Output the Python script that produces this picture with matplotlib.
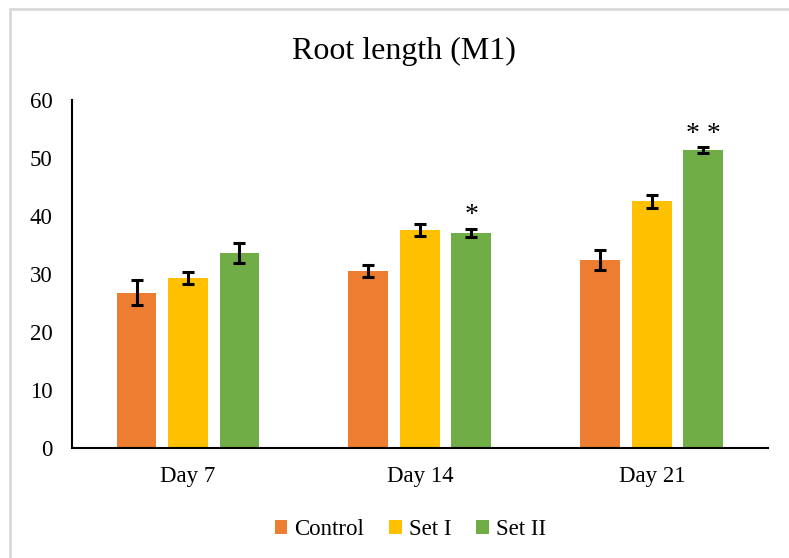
import numpy as np
import matplotlib
matplotlib.use("Agg")
import matplotlib.pyplot as plt
from matplotlib.patches import Rectangle

plt.rcParams['font.family'] = ['Liberation Serif', 'DejaVu Serif']

# root length (M1) by day and treatment
days = ["Day 7", "Day 14", "Day 21"]
groups = ["Control", "Set I", "Set II"]
control = [26.8, 30.5, 32.4]
set_one = [29.3, 37.6, 42.5]
set_two = [33.6, 37.1, 51.4]
control_err = [2.1, 1.1, 1.8]
set_one_err = [1.0, 1.0, 1.1]
set_two_err = [1.7, 0.7, 0.5]
set_two_marks = ["", "*", "* *"]

colors = ["#ED7D31", "#FFC000", "#70AD47"]

fig = plt.figure(figsize=(7.89, 5.58), dpi=100)
ax = fig.add_axes([0.0913, 0.197, 0.8817, 0.624])

# light grey chart frame, open at right and bottom
fig.patches.append(Rectangle((10 / 789, -0.05), 1.1, 1 - 8.5 / 558 + 0.05,
                             transform=fig.transFigure, fill=False,
                             edgecolor="#d9d9d9", linewidth=2, clip_on=False))

x = np.arange(len(days))
width = 0.172
step = 0.222
series = [control, set_one, set_two]
errors = [control_err, set_one_err, set_two_err]

for k, (vals, errs) in enumerate(zip(series, errors)):
    ax.bar(x + (k - 1) * step, vals, width, color=colors[k], label=groups[k],
           yerr=errs, error_kw=dict(ecolor="black", elinewidth=2.2,
                                    capsize=4.5, capthick=2.2), zorder=2)

# significance marks over Set II
for i, mark in enumerate(set_two_marks):
    if mark:
        ax.text(x[i] + step, set_two[i] + set_two_err[i] + 2.2, mark,
                ha="center", va="center", fontsize=20)

ax.set_xlim(-0.5, 2.5)
ax.set_ylim(0, 60)
ax.set_yticks(range(0, 61, 10))
ax.set_xticks(x)
ax.set_xticklabels(days)
ax.tick_params(axis="y", length=0, pad=14, labelsize=16.5)
ax.tick_params(axis="x", length=0, pad=13, labelsize=16.5)
for side in ["top", "right"]:
    ax.spines[side].set_visible(False)
for side in ["left", "bottom"]:
    ax.spines[side].set_linewidth(1.5)
    ax.spines[side].set_color("black")

fig.text(0.512, 0.907, "Root length (M1)", ha="center", va="center", fontsize=23)

fig.legend(loc="center", bbox_to_anchor=(0.52, 0.051), ncol=3, frameon=False,
           fontsize=16.5, handlelength=0.55, handleheight=0.55,
           handletextpad=0.3, columnspacing=1.1)

fig.savefig("out.png", dpi=100)
